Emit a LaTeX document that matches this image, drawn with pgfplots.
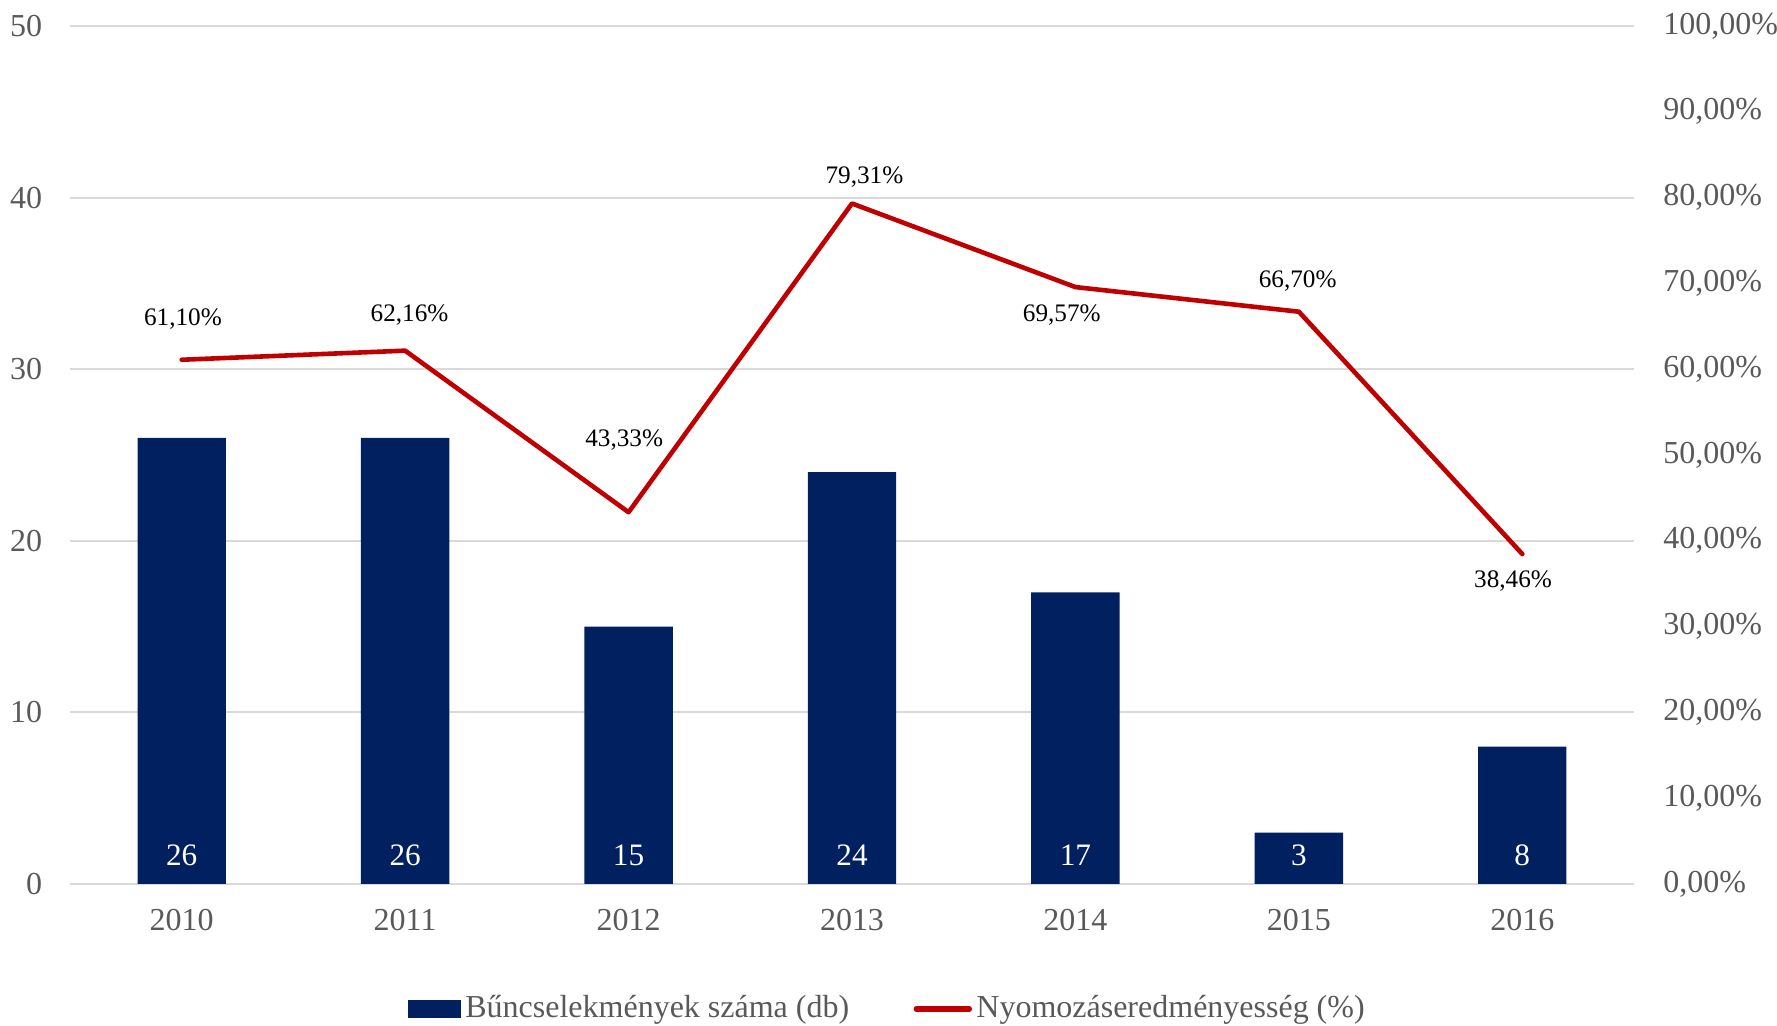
\documentclass[border=0pt]{standalone}
\usepackage{fontspec}
\setmainfont{Liberation Serif}
\usepackage{pgfplots}
\pgfplotsset{compat=1.18}
\definecolor{navy}{HTML}{002060}
\definecolor{dred}{HTML}{C00000}
\definecolor{tickgray}{HTML}{595959}
\definecolor{gridgray}{HTML}{D9D9D9}
\begin{document}
\begin{tikzpicture}
\useasboundingbox (-17.5pt,-35.5pt) rectangle (426.75pt,221pt);
\begin{axis}[
  at={(0,0)}, anchor=south west,
  scale only axis, width=391pt, height=214.5pt,
  xmin=-0.5, xmax=6.5, ymin=0, ymax=50,
  ytick={0,10,...,50}, xtick={0,...,6},
  xticklabels={2010,2011,2012,2013,2014,2015,2016},
  axis line style={draw=none},
  tick style={draw=none},
  ymajorgrids, grid style={gridgray, line width=0.5pt},
  tick label style={font=\fontsize{8}{9.6}\selectfont, text=tickgray},
  yticklabel style={inner sep=0pt, xshift=-6.75pt, anchor=east},
  xticklabel style={inner sep=0pt, yshift=-6.2pt, anchor=north},
  /pgf/number format/assume math mode=true,
]
\addplot[ybar, bar width=22.1pt, fill=navy, draw=none] coordinates {(0,26) (1,26) (2,15) (3,24) (4,17) (5,3) (6,8)};
\foreach \i/\v in {0/26,1/26,2/15,3/24,4/17,5/3,6/8}{
  \edef\temp{\noexpand\node[text=white, font=\noexpand\fontsize{7.8}{9}\noexpand\selectfont, yshift=7.1pt] at (axis cs:\i,0) {\v};}
  \temp
}
\end{axis}
\begin{axis}[
  at={(0,0)}, anchor=south west,
  scale only axis, width=391pt, height=214.5pt,
  xmin=-0.5, xmax=6.5, ymin=0, ymax=100,
  ytick={0,10,...,100},
  yticklabels={{0,00\%},{10,00\%},{20,00\%},{30,00\%},{40,00\%},{50,00\%},{60,00\%},{70,00\%},{80,00\%},{90,00\%},{100,00\%}},
  yticklabel pos=right,
  xtick=\empty,
  axis line style={draw=none},
  tick style={draw=none},
  tick label style={font=\fontsize{8}{9.6}\selectfont, text=tickgray},
  yticklabel style={inner sep=0pt, xshift=7.15pt, anchor=west},
  legend columns=2,
  legend style={at={(0.5235,-0.1457)}, anchor=center, draw=none, fill=none,
    font=\fontsize{8}{9.6}\selectfont, text=tickgray,
    nodes={inner xsep=1.1pt, inner ysep=0pt},
    /tikz/every even column/.append style={column sep=15pt}},
]
\addlegendimage{legend image code/.code={\fill[navy] (0pt,-2pt) rectangle (12.75pt,2pt);}}
\addlegendentry{Bűncselekmények száma (db)}
\addplot[dred, line width=1.15pt, mark=none, line join=round, line cap=round,
  legend image code/.code={\draw[dred,line width=1.3pt,line cap=round] (0pt,0pt) -- (13.3pt,0pt);}]
  coordinates {(0,61.10) (1,62.16) (2,43.33) (3,79.31) (4,69.57) (5,66.70) (6,38.46)};
\addlegendentry{Nyomozáseredményesség (\%)}
\node[font=\fontsize{6.3}{7.5}\selectfont, xshift=0.3pt, yshift=10.2pt] at (axis cs:0,61.10) {61,10\%};
\node[font=\fontsize{6.3}{7.5}\selectfont, xshift=1.1pt, yshift=9.0pt] at (axis cs:1,62.16) {62,16\%};
\node[font=\fontsize{6.3}{7.5}\selectfont, xshift=-1.1pt, yshift=18.1pt] at (axis cs:2,43.33) {43,33\%};
\node[font=\fontsize{6.3}{7.5}\selectfont, xshift=3.1pt, yshift=6.5pt] at (axis cs:3,79.31) {79,31\%};
\node[font=\fontsize{6.3}{7.5}\selectfont, xshift=-3.4pt, yshift=-7.1pt] at (axis cs:4,69.57) {69,57\%};
\node[font=\fontsize{6.3}{7.5}\selectfont, xshift=-0.3pt, yshift=7.6pt] at (axis cs:5,66.70) {66,70\%};
\node[font=\fontsize{6.3}{7.5}\selectfont, xshift=-2.3pt, yshift=-6.8pt] at (axis cs:6,38.46) {38,46\%};
\end{axis}
\end{tikzpicture}
\end{document}
